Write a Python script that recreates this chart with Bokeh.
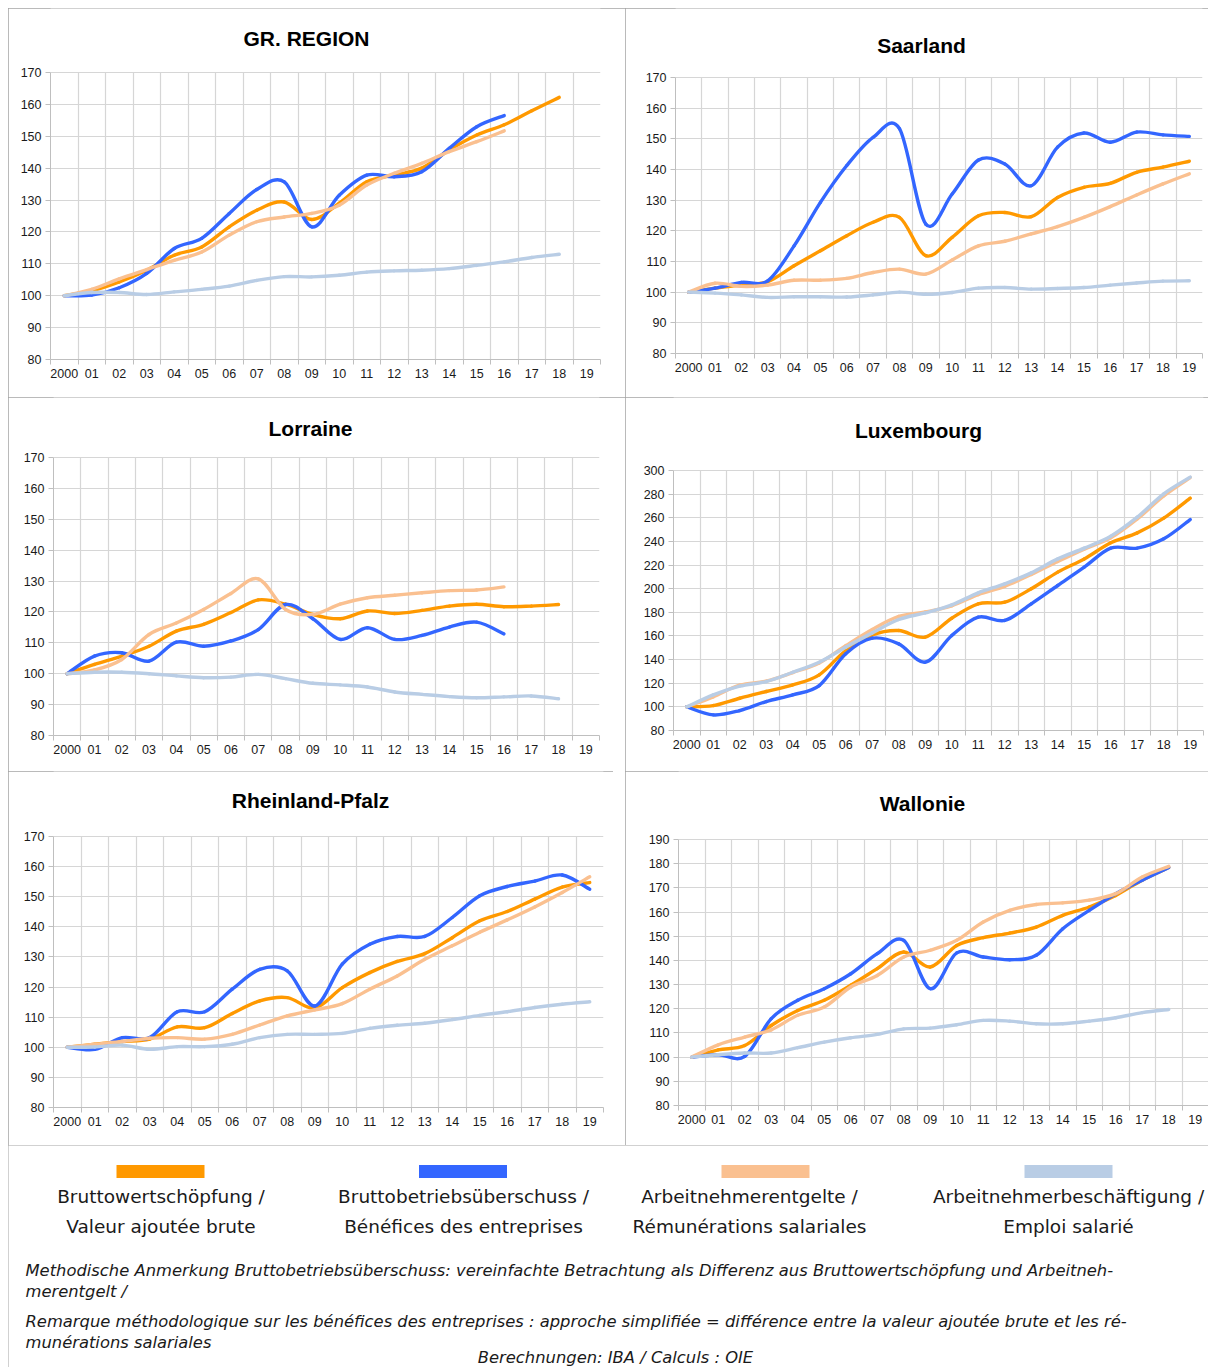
from bokeh.plotting import figure
from bokeh.layouts import column, row, Spacer
from bokeh.models import Range1d, FixedTicker, Label, ColumnDataSource
from bokeh.core.properties import value
from bokeh.embed import file_html
from bokeh.resources import INLINE

# ---------------- data ----------------
YEAR_LABELS = ["2000", "01", "02", "03", "04", "05", "06", "07", "08", "09",
               "10", "11", "12", "13", "14", "15", "16", "17", "18", "19"]

SERIES_DE = ["Bruttowertschöpfung /", "Bruttobetriebsüberschuss /",
             "Arbeitnehmerentgelte /", "Arbeitnehmerbeschäftigung /"]
SERIES_FR = ["Valeur ajoutée brute", "Bénéfices des entreprises",
             "Rémunérations salariales", "Emploi salarié"]
COLORS = ["#FF9900", "#3366FF", "#FAC090", "#B9CDE5"]

GR_BWS = [100, 101.5, 104.3, 108.0, 112.7, 115.3, 121.6, 126.8, 129.4, 123.9, 129.0, 135.7, 137.8, 140.0, 145.7, 150.4, 153.6, 158.0, 162.2]
GR_BBU = [100, 100.2, 102.5, 107.0, 114.8, 118.0, 125.8, 133.3, 135.7, 121.6, 131.5, 137.8, 137.3, 138.9, 146.2, 153.0, 156.5]
GR_AE = [100, 102.0, 105.3, 108.2, 111.1, 113.7, 119.0, 123.2, 124.7, 125.8, 128.4, 134.7, 138.4, 141.5, 145.2, 148.3, 151.7]
GR_AB = [100, 101.0, 101.0, 100.4, 101.2, 102.0, 103.0, 104.8, 106.0, 105.9, 106.4, 107.4, 107.8, 108.0, 108.5, 109.5, 110.6, 112.0, 113.0]

SL_BWS = [100, 101.3, 102.3, 103.4, 108.6, 113.5, 118.4, 122.8, 124.4, 111.9, 117.9, 124.9, 126.0, 124.6, 130.9, 134.2, 135.5, 139.1, 140.8, 142.7]
SL_BBU = [100, 101.3, 103.2, 103.7, 115.1, 129.3, 141.3, 150.5, 153.3, 122.2, 132.0, 143.1, 141.8, 134.7, 147.3, 151.9, 148.9, 152.2, 151.3, 150.8]
SL_AE = [100, 102.9, 101.9, 102.3, 103.9, 103.9, 104.5, 106.4, 107.5, 105.9, 110.5, 115.1, 116.6, 119.0, 121.4, 124.4, 127.9, 131.7, 135.3, 138.6]
SL_AB = [100, 99.7, 99.1, 98.3, 98.5, 98.5, 98.4, 99.1, 100.0, 99.3, 99.9, 101.3, 101.5, 101.0, 101.2, 101.5, 102.3, 103.0, 103.6, 103.7]

LO_BWS = [100, 103.0, 105.7, 108.9, 113.8, 116.0, 119.8, 123.9, 122.5, 119.2, 117.8, 120.3, 119.5, 120.5, 121.9, 122.5, 121.7, 121.9, 122.4]
LO_BBU = [100, 105.7, 106.8, 104.1, 110.2, 108.9, 110.6, 114.3, 122.4, 117.8, 111.1, 114.9, 111.1, 112.4, 115.1, 116.7, 112.9]
LO_AE = [100, 101.2, 104.6, 112.7, 116.4, 120.8, 126.0, 130.7, 120.8, 119.2, 122.5, 124.6, 125.4, 126.2, 126.9, 127.1, 128.1]
LO_AB = [100, 100.5, 100.5, 100.0, 99.3, 98.7, 98.9, 99.8, 98.4, 96.9, 96.4, 95.7, 94.1, 93.3, 92.6, 92.2, 92.5, 92.8, 91.9]

LU_BWS = [100, 101.1, 107.3, 113.0, 118.6, 127.1, 147.7, 160.9, 164.6, 159.0, 175.0, 187.2, 188.6, 199.9, 214.0, 225.2, 238.8, 247.2, 259.7, 276.6]
LU_BBU = [100, 93.2, 96.9, 104.5, 110.2, 118.0, 144.9, 158.1, 153.3, 137.8, 160.4, 175.9, 173.1, 187.2, 202.7, 218.2, 234.3, 234.3, 242.2, 258.5]
LU_AE = [100, 108.5, 118.3, 121.8, 129.0, 137.2, 151.8, 165.5, 176.5, 180.3, 185.5, 195.0, 202.0, 212.0, 223.0, 233.5, 243.0, 259.0, 278.5, 294.0]
LU_AB = [100, 110.2, 117.5, 121.4, 129.3, 137.8, 150.5, 162.6, 173.9, 179.5, 186.3, 196.5, 204.1, 213.4, 225.2, 234.3, 244.4, 260.5, 280.3, 294.4]

RP_BWS = [100, 101.0, 101.9, 102.7, 106.8, 106.5, 111.2, 115.4, 116.5, 113.0, 119.8, 124.8, 128.5, 131.1, 136.4, 142.0, 145.1, 149.2, 153.2, 154.7]
RP_BBU = [100, 99.3, 103.2, 103.2, 111.8, 111.8, 119.3, 125.9, 125.4, 113.7, 127.6, 134.2, 136.8, 136.8, 143.1, 150.3, 153.4, 155.2, 157.2, 152.5]
RP_AE = [100, 101.0, 101.9, 103.0, 103.2, 102.7, 104.3, 107.4, 110.4, 112.4, 114.5, 119.3, 123.7, 129.2, 133.7, 138.2, 142.3, 146.6, 151.4, 156.6]
RP_AB = [100, 100.1, 100.7, 99.3, 100.2, 100.2, 101.0, 103.2, 104.3, 104.3, 104.6, 106.3, 107.3, 108.0, 109.2, 110.6, 111.8, 113.2, 114.3, 115.1]

WA_BWS = [100, 103.0, 104.8, 113.1, 119.3, 123.5, 129.7, 136.6, 143.5, 137.3, 146.2, 149.4, 151.3, 153.8, 158.6, 162.1, 166.9, 173.2, 178.4]
WA_BBU = [100, 101.0, 100.3, 115.9, 123.5, 128.3, 134.5, 142.8, 148.3, 128.3, 143.1, 141.4, 140.3, 142.1, 153.1, 160.7, 167.6, 173.2, 178.4]
WA_AE = [100, 105.1, 108.3, 111.3, 117.3, 120.7, 129.0, 133.8, 141.4, 144.2, 148.3, 155.9, 160.7, 163.1, 163.8, 164.9, 167.6, 174.5, 178.9]
WA_AB = [100, 101.0, 101.7, 101.7, 103.9, 106.2, 108.0, 109.4, 111.7, 112.0, 113.4, 115.2, 114.9, 113.8, 113.8, 114.9, 116.3, 118.4, 119.7]

NOTES = [
    "Methodische Anmerkung Bruttobetriebsüberschuss: vereinfachte Betrachtung als Differenz aus Bruttowertschöpfung und Arbeitneh-",
    "merentgelt /",
    "Remarque méthodologique sur les bénéfices des entreprises : approche simplifiée = différence entre la valeur ajoutée brute et les ré-",
    "munérations salariales",
]
SOURCE = "Berechnungen: IBA / Calculs : OIE"

# ---------------- style ----------------
FONT = "Liberation Sans"
LEG_FONT = "DejaVu Sans"
GRID = "#d6d6d6"
AXIS = "#bfbfbf"
TXT = "#1a1a1a"
LW = 3.4
BORDER = {"outline": "1px solid #a3a3a3", "outline-offset": "-1px"}


def add_series(p, ys, color):
    n = len(ys)
    xs = list(range(n))
    d = dict(x0=[], y0=[], x1=[], y1=[], cx0=[], cy0=[], cx1=[], cy1=[])
    for i in range(n - 1):
        a = max(i - 1, 0)
        b = min(i + 2, n - 1)
        d["x0"].append(xs[i]); d["y0"].append(ys[i])
        d["x1"].append(xs[i + 1]); d["y1"].append(ys[i + 1])
        d["cx0"].append(xs[i] + (xs[i + 1] - xs[a]) / 6.0)
        d["cy0"].append(ys[i] + (ys[i + 1] - ys[a]) / 6.0)
        d["cx1"].append(xs[i + 1] - (xs[b] - xs[i]) / 6.0)
        d["cy1"].append(ys[i + 1] - (ys[b] - ys[i]) / 6.0)
    src = ColumnDataSource(d)
    p.bezier(x0="x0", y0="y0", x1="x1", y1="y1", cx0="cx0", cy0="cy0",
             cx1="cx1", cy1="cy1", source=src, line_color=color,
             line_width=LW, line_cap="round")


def panel(title, series, ymin, ymax, ystep, fig_w, fig_h, left, top, fw, fh, tx, ty):
    n = len(YEAR_LABELS)
    ppu = fh / float(ymax - ymin)          # pixels per value unit
    y_end = ymin + (top + fh) / ppu         # frame reaches up to the title area
    p = figure(frame_width=fw, frame_height=top + fh,
               min_border_left=left, min_border_top=0,
               min_border_right=fig_w - left - fw,
               min_border_bottom=fig_h - top - fh,
               x_range=Range1d(-0.5, n - 0.5),
               y_range=Range1d(ymin, y_end),
               output_backend="svg", toolbar_location=None, tools="",
               styles=BORDER)
    p.outline_line_color = None
    p.background_fill_color = "white"
    p.border_fill_color = "white"

    p.xaxis.ticker = FixedTicker(ticks=list(range(n)),
                                 minor_ticks=[i - 0.5 for i in range(n + 1)])
    p.xaxis.major_label_overrides = {i: lab for i, lab in enumerate(YEAR_LABELS)}
    p.xaxis.major_tick_line_color = None
    p.xaxis.major_tick_out = 0
    p.xaxis.major_tick_in = 0
    p.xaxis.minor_tick_line_color = AXIS
    p.xaxis.minor_tick_out = 5
    p.xaxis.minor_tick_in = 0
    p.xaxis.major_label_standoff = 4
    p.xaxis.axis_line_color = AXIS

    p.yaxis.ticker = FixedTicker(ticks=list(range(ymin, ymax + 1, ystep)))
    p.yaxis.bounds = (ymin, ymax)
    p.yaxis.major_tick_line_color = AXIS
    p.yaxis.major_tick_out = 5
    p.yaxis.major_tick_in = 0
    p.yaxis.minor_tick_line_color = None
    p.yaxis.major_label_standoff = 4
    p.yaxis.axis_line_color = AXIS

    for ax in (p.xaxis, p.yaxis):
        ax.major_label_text_font = FONT
        ax.major_label_text_font_size = "12.5px"
        ax.major_label_text_color = TXT

    p.xgrid.grid_line_color = None
    p.xgrid.minor_grid_line_color = GRID
    p.xgrid.minor_grid_line_width = 1.2
    p.xgrid.cross_bounds = (ymin, ymax)
    p.ygrid.grid_line_color = GRID
    p.ygrid.grid_line_width = 1.2

    for ys, c in zip(series, COLORS):
        add_series(p, ys, c)

    lx = -0.5 + (tx - left) * n / float(fw)
    ly = ymin + (top + fh - ty) / ppu
    p.add_layout(Label(x=lx, y=ly, text=title, text_align="center",
                       text_baseline="middle", text_font=FONT,
                       text_font_style="bold", text_font_size="21px",
                       text_color="#000000"))
    return p


p_gr = panel("GR. REGION", [GR_BWS, GR_BBU, GR_AE, GR_AB], 80, 170, 10,
             617, 389, 42, 64, 550, 287, 298, 30)
p_sl = panel("Saarland", [SL_BWS, SL_BBU, SL_AE, SL_AB], 80, 170, 10,
             583, 389, 50, 69, 527, 276, 296, 37)
p_lo = panel("Lorraine", [LO_BWS, LO_BBU, LO_AE, LO_AB], 80, 170, 10,
             617, 374, 45, 60, 546, 278, 302, 31)
p_lu = panel("Luxembourg", [LU_BWS, LU_BBU, LU_AE, LU_AB], 80, 300, 20,
             583, 374, 48, 73, 530, 260, 293, 33)
p_rp = panel("Rheinland-Pfalz", [RP_BWS, RP_BBU, RP_AE, RP_AB], 80, 170, 10,
             605, 374, 45, 65, 550, 271, 302, 29)
p_wa = panel("Wallonie", [WA_BWS, WA_BBU, WA_AE, WA_AB], 80, 190, 10,
             583, 374, 53, 68, 530, 266, 297, 32)

# ---------------- legend / notes ----------------
LW_W, LW_H = 1200, 222
leg = figure(frame_width=LW_W, frame_height=LW_H, min_border=0,
             x_range=Range1d(0, LW_W), y_range=Range1d(LW_H, 0),
             x_axis_location=None, y_axis_location=None,
             output_backend="svg", toolbar_location=None, tools="",
             styles=BORDER)
leg.grid.visible = False
leg.outline_line_color = None
leg.background_fill_color = "white"
leg.border_fill_color = "white"

sw_x = [152, 454.5, 757, 1060]
txt_x = [152.5, 455, 741, 1060]
leg.rect(x=sw_x, y=[26] * 4, width=88, height=13, fill_color=COLORS, line_color=None)
leg.text(x=txt_x, y=[51] * 4, text=SERIES_DE, text_align="center", text_baseline="middle",
         text_font=value(LEG_FONT), text_font_size="18.5px", text_color=TXT)
leg.text(x=txt_x, y=[81] * 4, text=SERIES_FR, text_align="center", text_baseline="middle",
         text_font=value(LEG_FONT), text_font_size="18.5px", text_color=TXT)
leg.text(x=[17] * 4, y=[125, 146, 176, 197], text=NOTES, text_align="left",
         text_baseline="middle", text_font=value(LEG_FONT), text_font_style="italic",
         text_font_size="16.35px", text_color=TXT)
leg.text(x=[607], y=[212], text=[SOURCE], text_align="center", text_baseline="middle",
         text_font=value(LEG_FONT), text_font_style="italic", text_font_size="16.35px",
         text_color=TXT)

grid_block = column(row(p_gr, p_sl), row(p_lo, p_lu),
                    row(p_rp, Spacer(width=12, height=374), p_wa), leg)
layout = column(Spacer(width=1208, height=8), row(Spacer(width=8, height=1359), grid_block))

open("out.html", "w").write(file_html(layout, INLINE))
